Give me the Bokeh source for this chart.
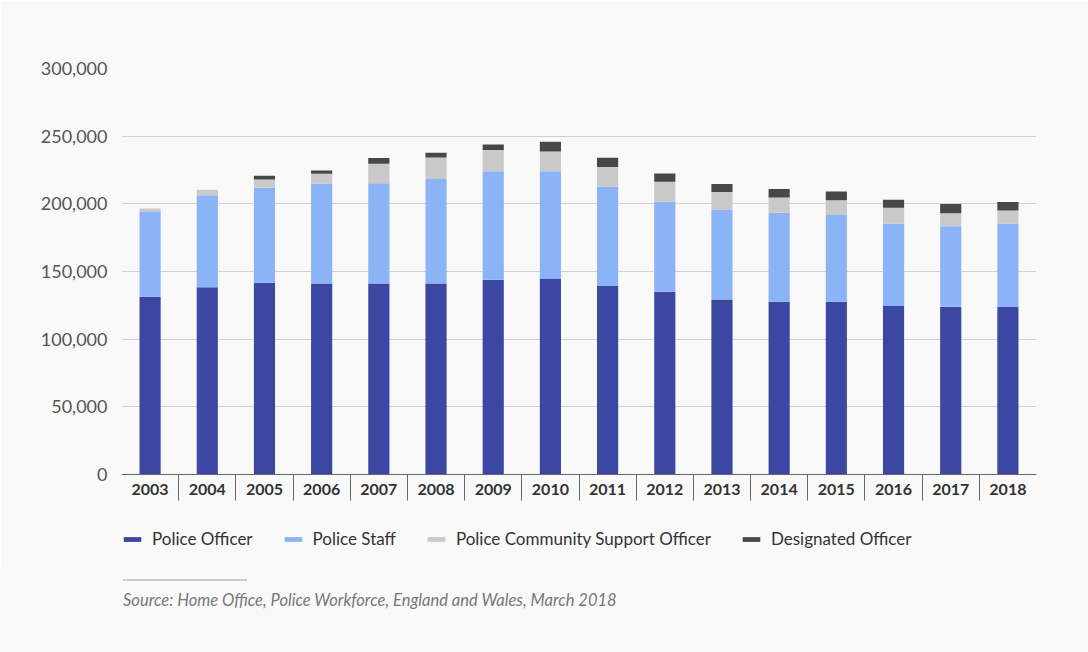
from bokeh.plotting import figure
from bokeh.models import (ColumnDataSource, Range1d, FixedTicker, NumeralTickFormatter,
                          Legend, LegendItem, Div)
from bokeh.layouts import column
from bokeh.embed import file_html
from bokeh.resources import INLINE

years = ["2003", "2004", "2005", "2006", "2007", "2008", "2009", "2010",
         "2011", "2012", "2013", "2014", "2015", "2016", "2017", "2018"]
police_officer = [131300, 138300, 141700, 141200, 141200, 141200, 143900, 144900,
                  139200, 135000, 129400, 127600, 127600, 124500, 123900, 123700]
police_staff = [63300, 68100, 70100, 73900, 74100, 77100, 80100, 79100,
                73400, 66500, 66000, 65800, 64100, 61000, 59600, 61800]
pcso = [2000, 4000, 6200, 7100, 14300, 16000, 15700, 14700,
        14700, 14800, 13300, 11300, 11000, 11600, 9600, 9600]
designated = [0, 0, 2700, 2500, 4200, 3400, 4200, 7100,
              6700, 6200, 5900, 6200, 6500, 5900, 6700, 6200]
series_names = ["Police Officer", "Police Staff", "Police Community Support Officer", "Designated Officer"]
colors = ["#3c46a3", "#8ab4f6", "#c9c9c9", "#474747"]
y_ticks = [0, 50000, 100000, 150000, 200000, 250000, 300000]
Y_MAX = 300000

BG = "#f9f9f9"
FONT = "Lato"

# layout (pixels)
FIG_W, FIG_H = 1088, 572
TOP, LEFT, RIGHT, BOTTOM = 68, 121, 52, 0
PLOT_PX = 406            # pixels from value 0 to Y_MAX
frame_h = FIG_H - TOP - BOTTOM
y_min = -Y_MAX * (frame_h - PLOT_PX) / PLOT_PX

n = len(years)
xs = list(range(n))
src = ColumnDataSource(dict(x=xs, officer=police_officer, staff=police_staff,
                            pcso=pcso, desig=designated))

p = figure(width=FIG_W, height=FIG_H, x_range=Range1d(-0.5, n - 0.5), y_range=Range1d(y_min, Y_MAX),
           output_backend="svg", toolbar_location=None,
           min_border_left=LEFT, min_border_right=RIGHT, min_border_top=TOP, min_border_bottom=BOTTOM,
           background_fill_color=BG, border_fill_color=BG, outline_line_color=None)

rs = p.vbar_stack(["officer", "staff", "pcso", "desig"], x="x", width=0.37,
                  color=colors, line_color=None, source=src)

# x axis at value 0: labels at centres, separators at boundaries
xa = p.xaxis[0]
xa.fixed_location = 0
xa.ticker = FixedTicker(ticks=xs, minor_ticks=[i + 0.5 for i in range(n - 1)])
xa.major_label_overrides = {i: y for i, y in zip(xs, years)}
xa.major_tick_in = 0
xa.major_tick_out = 0
xa.minor_tick_in = 0
xa.minor_tick_out = 26
xa.minor_tick_line_color = "#666666"
xa.minor_tick_line_width = 1
xa.axis_line_color = "#666666"
xa.axis_line_width = 1
xa.major_label_text_font = FONT
xa.major_label_text_font_size = "16px"
xa.major_label_text_font_style = "bold"
xa.major_label_text_color = "#333333"
xa.major_label_standoff = -17

ya = p.yaxis[0]
ya.ticker = FixedTicker(ticks=y_ticks)
ya.formatter = NumeralTickFormatter(format="0,0")
ya.axis_line_color = None
ya.major_tick_line_color = None
ya.minor_tick_line_color = None
ya.major_label_text_font = FONT
ya.major_label_text_font_size = "18px"
ya.major_label_text_color = "#555555"
ya.major_label_standoff = 8

p.xgrid.grid_line_color = None
p.ygrid.grid_line_color = "#d0d0d0"
p.ygrid.grid_line_width = 1

legend = Legend(items=[LegendItem(label=nm, renderers=[r]) for nm, r in zip(series_names, rs)],
                orientation="horizontal", location=(0, 23),
                glyph_width=22, glyph_height=6, label_standoff=9, spacing=29,
                padding=5, margin=0,
                label_text_font=FONT, label_text_font_size="17px", label_text_color="#333333",
                background_fill_alpha=0, border_line_color=None)
p.add_layout(legend, "center")

source_div = Div(
    text=('<div style="margin-left:123px;margin-top:7px;width:124px;border-top:2px solid #cccccc;"></div>'
          '<div style="margin-left:123px;margin-top:8px;font-family:Lato;font-style:italic;'
          'font-size:16.5px;color:#777777;">Source: Home Office, Police Workforce, England and Wales, March 2018</div>'),
    width=FIG_W, height=80, styles={"background-color": BG},
    margin=(0, 0, 0, 0))

layout = column(p, source_div, spacing=0)
open("out.html", "w").write(file_html(layout, INLINE))
